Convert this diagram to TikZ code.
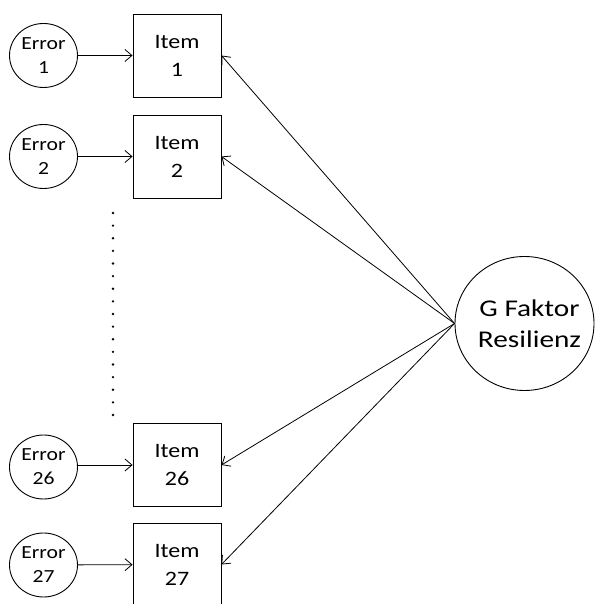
\documentclass[tikz,border=0pt]{standalone}
\usepackage{fontspec}
\setmainfont{Carlito}[FakeStretch=1.17]
\newfontfamily\gfont{Carlito}[FakeStretch=1.22]
\usetikzlibrary{arrows.meta,shapes.geometric}
\tikzset{
  itembox/.style={draw, line width=0.9pt, minimum width=88pt, minimum height=83pt, inner sep=0pt, align=center, font=\fontsize{20.5}{28}\selectfont},
  errnode/.style={draw, ellipse, line width=0.9pt, minimum width=68pt, minimum height=64pt, inner sep=0pt,
    label={[align=center, font=\fontsize{18.5}{24}\selectfont]center:#1}},
  gnode/.style={draw, ellipse, line width=0.9pt, minimum width=139pt, minimum height=134pt, inner sep=0pt,
    label={[align=center, xshift=5pt, font=\gfont\fontsize{24}{31}\selectfont]center:#1}},
  conn/.style={line width=0.8pt, -{Straight Barb[length=7pt,width=12pt,line width=0.8pt]}},
  dotmark/.style={fill=black, circle, inner sep=0pt, minimum size=2.6pt}
}
\begin{document}
\begin{tikzpicture}[x=1pt,y=1pt]
\useasboundingbox (0,0) rectangle (595,604);
% items (y = 604 - image y)
\node[itembox] (i1) at (177,548.5) {Item\\1};
\node[itembox] (i2) at (177,447.5) {Item\\2};
\node[itembox] (i26) at (177,139) {Item\\26};
\node[itembox] (i27) at (177,39.5) {Item\\27};
% errors
\node[errnode={Error\\1}] (e1) at (43.5,548.5) {};
\node[errnode={Error\\2}] (e2) at (43.5,447.5) {};
\node[errnode={Error\\26}] (e26) at (43.5,137) {};
\node[errnode={Error\\27}] (e27) at (43.5,39) {};
% general factor
\node[gnode={G Faktor\\Resilienz}] (g) at (524.5,280.5) {};
% error arrows
\draw[conn] (e1) -- (i1);
\draw[conn] (e2) -- (i2);
\draw[conn] (e26.east |- i26.west) -- (i26.west);
\draw[conn] (e27) -- (i27);
% loadings
\draw[conn] (g.west) -- (i1.east);
\draw[conn] (g.west) -- (i2.east);
\draw[conn] (g.west) -- (i26.east);
\draw[conn] (g.west) -- (i27.east);
% dots
\foreach \k in {0,...,16} {
  \node[dotmark] (d\k) at (113, 391 - 12.625*\k) {};
}
\end{tikzpicture}
\end{document}
